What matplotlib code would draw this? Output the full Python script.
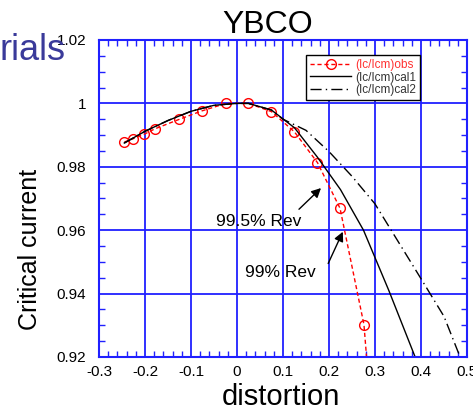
import matplotlib
matplotlib.use('Agg')
import matplotlib.pyplot as plt
from matplotlib.ticker import MultipleLocator

plt.rcParams['font.family'] = ['Liberation Sans', 'DejaVu Sans']

# observed critical current ratio
obs_x = [-0.245, -0.225, -0.2015, -0.178, -0.125, -0.077, -0.024, 0.025,
         0.075, 0.125, 0.175, 0.224, 0.276, 0.29]
obs_y = [0.9878, 0.9889, 0.9903, 0.992, 0.995, 0.9976, 1.0, 1.0,
         0.9974, 0.991, 0.9813, 0.9669, 0.9302, 0.905]

# calculated curves
cal1_x = [-0.245, -0.2, -0.15, -0.1, -0.05, 0.0, 0.025, 0.075, 0.125,
          0.175, 0.225, 0.275, 0.33, 0.39]
cal1_y = [0.9875, 0.9912, 0.9946, 0.9975, 0.9994, 1.0, 1.0, 0.9979, 0.9923,
          0.983, 0.9728, 0.960, 0.941, 0.919]
cal2_x = [-0.245, -0.2, -0.15, -0.1, -0.05, 0.0, 0.025, 0.075, 0.1, 0.15,
          0.2, 0.25, 0.3, 0.35, 0.4, 0.45, 0.485]
cal2_y = [0.9875, 0.9912, 0.9946, 0.9975, 0.9994, 1.0, 1.0, 0.9979, 0.995,
          0.9915, 0.9848, 0.977, 0.9683, 0.9565, 0.9447, 0.9328, 0.920]

xticks = [-0.3, -0.2, -0.1, 0, 0.1, 0.2, 0.3, 0.4, 0.5]
xticklabels = ['-0.3', '-0.2', '-0.1', '0', '0.1', '0.2', '0.3', '0.4', '0.5']
yticks = [0.92, 0.94, 0.96, 0.98, 1.0, 1.02]
yticklabels = ['0.92', '0.94', '0.96', '0.98', '1', '1.02']

fig = plt.figure(figsize=(4.73, 4.11), dpi=100)
ax = fig.add_axes([0.2093, 0.1314, 0.778, 0.7713])

ax.plot(obs_x, obs_y, color='red', ls='--', dashes=(3, 2), lw=1,
        marker='o', mfc='none', mec='red', ms=7, mew=1,
        label='(Ic/Icm)obs')
ax.plot(cal1_x, cal1_y, color='black', lw=1, label='(Ic/Icm)cal1')
ax.plot(cal2_x, cal2_y, color='black', lw=1, dashes=(8, 3, 1, 3),
        label='(Ic/Icm)cal2')

ax.set_xlim(-0.3, 0.5)
ax.set_ylim(0.92, 1.02)
ax.set_xticks(xticks)
ax.set_xticklabels(xticklabels)
ax.set_yticks(yticks)
ax.set_yticklabels(yticklabels)
ax.xaxis.set_minor_locator(MultipleLocator(0.02))
ax.yaxis.set_minor_locator(MultipleLocator(0.005))

ax.grid(which='major', color='#2020ff', lw=1.3)
for sp in ax.spines.values():
    sp.set_color('#2020ff')
    sp.set_linewidth(1.5)
ax.tick_params(which='both', direction='in', top=True, right=True,
               color='#2020ff', labelsize=11)
ax.tick_params(which='minor', length=4, width=1)
ax.tick_params(which='major', length=0)
ax.tick_params(axis='x', pad=6)
ax.tick_params(axis='y', pad=9)

# arrows and notes
ax.annotate('', xy=(0.187, 0.9739), xytext=(0.1304, 0.966),
            arrowprops=dict(arrowstyle='-|>', color='black', lw=1,
                            mutation_scale=14))
ax.annotate('', xy=(0.2326, 0.9603), xytext=(0.1957, 0.9487),
            arrowprops=dict(arrowstyle='-|>', color='black', lw=1,
                            mutation_scale=14))
ax.text(0.048, 0.9628, '99.5% Rev', ha='center', va='center', fontsize=12.5)
ax.text(0.0935, 0.9468, '99% Rev', ha='center', va='center', fontsize=12.5)

leg = ax.legend(loc='upper left', bbox_to_anchor=(0.5625, 0.953),
                borderaxespad=0, fontsize=8.5, handlelength=3.5,
                labelspacing=0.05, borderpad=0.35, handletextpad=0.3,
                fancybox=False, framealpha=1, edgecolor='black')
leg.get_frame().set_linewidth(1)
cols = ['#ff3030', '#333333', '#333333']
for t, c in zip(leg.get_texts(), cols):
    t.set_color(c)

fig.text(0.565, 0.92, 'YBCO', ha='center', va='baseline', fontsize=23)
fig.text(0.0, 0.854, 'rials', ha='left', va='baseline', fontsize=26,
         color='#3a3a9a')
fig.text(0.063, 0.394, 'Critical current', rotation=90, ha='center',
         va='center', fontsize=18)
fig.text(0.594, 0.015, 'distortion', ha='center', va='baseline', fontsize=21)

fig.savefig('out.png', dpi=100)
